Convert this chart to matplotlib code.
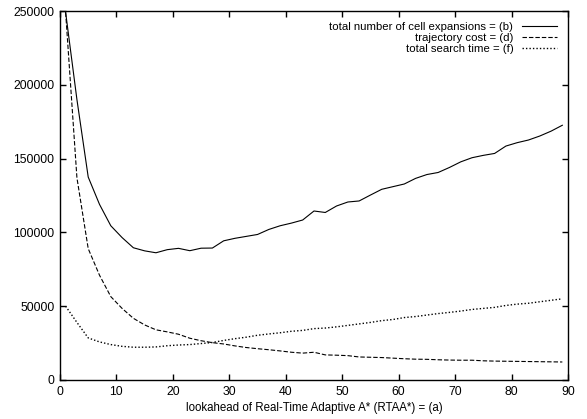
import matplotlib
matplotlib.use('Agg')
import matplotlib.pyplot as plt

plt.rcParams['font.family'] = ['Liberation Sans', 'DejaVu Sans']

# lookahead values (x) and the three series
lookahead = list(range(1, 90, 2))

cell_expansions = [249000, 190000, 137500, 119000, 104500, 96500, 89600, 87500, 86200, 88300,
                   89200, 87600, 89300, 89400, 94300, 96000, 97300, 98600, 102000, 104500,
                   106300, 108400, 114500, 113500, 117900, 120600, 121300, 125300, 129200, 131000,
                   132800, 136600, 139200, 140600, 144000, 147800, 150600, 152200, 153500, 158500,
                   160800, 162600, 165300, 168600, 172600]

trajectory_cost = [249000, 137000, 89000, 71000, 56500, 48500, 41800, 37300, 34000, 32600,
                   31000, 28300, 26600, 25300, 24400, 23100, 22000, 21200, 20500, 19700,
                   18800, 18200, 18800, 17000, 16800, 16500, 15600, 15400, 15200, 14800,
                   14400, 14100, 14000, 13700, 13500, 13400, 13400, 13000, 12800, 12700,
                   12600, 12500, 12400, 12300, 12200]

search_time = [50000, 39000, 28500, 25800, 24000, 22800, 22200, 22200, 22400, 23200,
               23700, 24000, 24700, 25400, 26800, 28000, 29000, 30300, 31200, 32000,
               33000, 33600, 34800, 35200, 36000, 37000, 38000, 39000, 40200, 41000,
               42300, 43000, 44000, 45000, 45800, 46700, 47800, 48500, 49200, 50500,
               51400, 52000, 53000, 54000, 55000]

labels = ['total number of cell expansions = (b)',
          'trajectory cost = (d)',
          'total search time = (f)']

fig = plt.figure(figsize=(5.87, 4.19), dpi=100)
ax = fig.add_axes([0.1022, 0.0931, 0.8654, 0.8806])

lw = 0.8
ax.plot(lookahead, cell_expansions, color='black', lw=lw, label=labels[0])
ax.plot(lookahead, trajectory_cost, color='black', lw=lw, dashes=(4, 1.8), label=labels[1])
ax.plot(lookahead, search_time, color='black', lw=1.0, dashes=(1, 1.5), label=labels[2])

ax.set_xlim(0, 90)
ax.set_ylim(0, 250000)
ax.set_xticks(range(0, 91, 10))
ax.set_yticks(range(0, 250001, 50000))
ax.tick_params(direction='in', top=True, right=True, length=4.5, width=1, labelsize=8.8, pad=4)
for s in ax.spines.values():
    s.set_linewidth(1)

ax.set_xlabel('lookahead of Real-Time Adaptive A* (RTAA*) = (a)', fontsize=8.3, labelpad=3)

ax.legend(loc='upper right', frameon=False, markerfirst=False, fontsize=8.2,
          handlelength=3.0, handletextpad=0.8, labelspacing=0.05,
          borderaxespad=0.8, borderpad=0.2)

fig.savefig('out.png', dpi=100)
